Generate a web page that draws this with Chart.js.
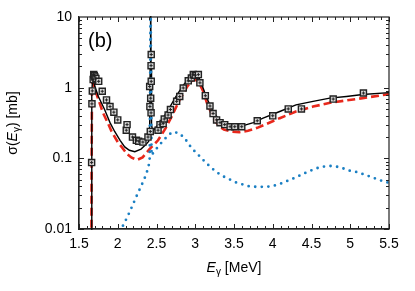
<!DOCTYPE html>
<html>
<head>
<meta charset="utf-8">
<script src="https://cdn.jsdelivr.net/npm/chart.js@4.4.0/dist/chart.umd.min.js"></script>
<style>
  html, body { margin: 0; padding: 0; background: #fff; }
  #wrap { width: 415px; height: 291px; }
</style>
</head>
<body>
<div id="wrap"><canvas id="chart"></canvas></div>
<script>
// x ticks / y ticks
const xTicks = [1.5, 2, 2.5, 3, 3.5, 4, 4.5, 5, 5.5];
const yTicks = [0.01, 0.1, 1, 10];

// total (black solid)
const totalE = [1.658, 1.663, 1.667, 1.673, 1.685, 1.70, 1.75, 1.83, 1.90, 1.96, 2.03, 2.09, 2.15, 2.22, 2.30, 2.36, 2.40,
  2.412, 2.418, 2.424, 2.430, 2.436, 2.45, 2.56, 2.65, 2.75, 2.85, 2.94, 3.0, 3.05, 3.10, 3.15, 3.23, 3.30, 3.38, 3.45,
  3.55, 3.62, 3.75, 3.875, 4.09, 4.30, 4.52, 4.735, 4.95, 5.16, 5.5];
const totalS = [0.001, 0.1, 0.8, 1.25, 1.27, 1.08, 0.75, 0.49, 0.32, 0.24, 0.18, 0.145, 0.13, 0.124, 0.135, 0.155, 0.175,
  0.3, 2, 30, 2, 0.3, 0.24, 0.34, 0.48, 0.75, 1.1, 1.42, 1.48, 1.38, 1.0, 0.71, 0.46, 0.36, 0.31, 0.30,
  0.285, 0.29, 0.32, 0.37, 0.46, 0.57, 0.64, 0.71, 0.75, 0.80, 0.85];

// red dashed component
const redE = [1.658, 1.663, 1.667, 1.672, 1.68, 1.70, 1.75, 1.81, 1.87, 1.92, 2.0, 2.05, 2.12, 2.18, 2.25, 2.32, 2.41,
  2.52, 2.62, 2.70, 2.80, 2.90, 2.96, 3.0, 3.04, 3.10, 3.15, 3.23, 3.30, 3.37, 3.46, 3.57, 3.68, 3.80, 3.90, 4.09,
  4.30, 4.52, 4.74, 4.95, 5.16, 5.5];
const redS = [0.001, 0.1, 0.8, 1.2, 1.22, 0.98, 0.68, 0.44, 0.32, 0.24, 0.17, 0.145, 0.115, 0.102, 0.095, 0.103, 0.135,
  0.18, 0.27, 0.40, 0.68, 1.05, 1.25, 1.30, 1.22, 0.9, 0.61, 0.38, 0.29, 0.255, 0.24, 0.235, 0.245, 0.27, 0.30, 0.37,
  0.46, 0.54, 0.61, 0.66, 0.71, 0.81];

// blue dotted component
const blueE = [2.0, 2.045, 2.09, 2.16, 2.235, 2.30, 2.346, 2.376, 2.40, 2.412, 2.418, 2.424, 2.430, 2.436, 2.47, 2.55,
  2.63, 2.70, 2.78, 2.85, 2.91, 2.95, 3.02, 3.09, 3.15, 3.23, 3.31, 3.37, 3.45, 3.53, 3.62, 3.70, 3.79, 3.875, 3.97,
  4.055, 4.13, 4.22, 4.305, 4.38, 4.46, 4.545, 4.63, 4.74, 4.83, 4.915, 5.0, 5.086, 5.17, 5.26, 5.34, 5.43, 5.5];
const blueS = [0.0075, 0.010, 0.0124, 0.018, 0.028, 0.040, 0.052, 0.064, 0.08, 0.1, 1, 30, 1, 0.11, 0.125, 0.16,
  0.20, 0.235, 0.23, 0.20, 0.164, 0.14, 0.118, 0.098, 0.084, 0.070, 0.060, 0.055, 0.050, 0.0454, 0.0425, 0.040, 0.0395, 0.0395, 0.040,
  0.042, 0.045, 0.0496, 0.054, 0.0596, 0.065, 0.071, 0.076, 0.078, 0.076, 0.0717, 0.0665, 0.064, 0.0596, 0.055, 0.051, 0.047, 0.045];

// measured points (squares)
const expE = [1.663, 1.667, 1.672, 1.683, 1.690, 1.697, 1.705, 1.718, 1.754, 1.80, 1.855, 1.90, 1.95, 2.00, 2.11, 2.12,
  2.19, 2.24, 2.27, 2.325, 2.39, 2.42, 2.43, 2.415, 2.425, 2.412, 2.432, 2.43, 2.432, 2.52, 2.545, 2.586, 2.60, 2.65,
  2.68, 2.76, 2.80, 2.845, 2.91, 2.95, 2.975, 3.00, 3.04, 3.06, 3.13, 3.19, 3.23, 3.275, 3.32, 3.38, 3.45, 3.51, 3.60,
  3.80, 4.00, 4.20, 4.37, 4.78, 5.17];
const expS = [0.087, 0.59, 0.90, 1.30, 1.53, 1.48, 1.42, 1.35, 1.23, 0.89, 0.67, 0.54, 0.45, 0.35, 0.25, 0.30,
  0.20, 0.18, 0.175, 0.17, 0.20, 0.24, 0.44, 0.54, 0.71, 1.04, 1.23, 2.05, 2.94, 0.25, 0.30, 0.31, 0.36, 0.41,
  0.49, 0.64, 0.75, 0.99, 1.25, 1.37, 1.53, 1.50, 1.53, 1.17, 0.77, 0.55, 0.43, 0.35, 0.32, 0.30, 0.28, 0.28, 0.28,
  0.34, 0.40, 0.50, 0.50, 0.69, 0.84];

const pts = (xs, ys) => xs.map((x, i) => ({ x: x, y: ys[i] }));

const FONT = "'Liberation Sans', Arial, sans-serif";

const framePlugin = {
  id: "frame",
  afterDraw(chart) {
    const { ctx, chartArea: a, scales: { x, y } } = chart;
    ctx.save();
    ctx.strokeStyle = "#222";
    ctx.lineWidth = 1.2;
    ctx.strokeRect(a.left, a.top, a.right - a.left, a.bottom - a.top);

    // x ticks, top and bottom, inward
    ctx.lineWidth = 1;
    ctx.beginPath();
    for (let k = 0; k <= 40; k++) {
      const v = 1.5 + k * 0.1;
      const px = Math.round(x.getPixelForValue(v)) + 0.5;
      const len = k % 5 === 0 ? 5 : 3;
      ctx.moveTo(px, a.bottom); ctx.lineTo(px, a.bottom - len);
      ctx.moveTo(px, a.top); ctx.lineTo(px, a.top + len);
    }
    // y ticks, log minors, left and right
    for (let d = -2; d <= 0; d++) {
      for (let m = 1; m <= 9; m++) {
        const v = m * Math.pow(10, d);
        const py = Math.round(y.getPixelForValue(v)) + 0.5;
        const len = m === 1 ? 5 : 3;
        ctx.moveTo(a.left, py); ctx.lineTo(a.left + len, py);
        ctx.moveTo(a.right, py); ctx.lineTo(a.right - len, py);
      }
    }
    ctx.stroke();

    // panel label
    ctx.fillStyle = "#000";
    ctx.font = "20px " + FONT;
    ctx.textBaseline = "alphabetic";
    ctx.textAlign = "left";
    ctx.fillText("(b)", 88, 47);

    // x title: E_gamma [MeV]
    const cx = (a.left + a.right) / 2;
    const base = 272;
    ctx.font = "italic 14px " + FONT;
    const wE = ctx.measureText("E").width;
    ctx.font = "10px " + FONT;
    const wG = ctx.measureText("\u03b3").width;
    ctx.font = "14px " + FONT;
    const wR = ctx.measureText(" [MeV]").width;
    let sx = cx - (wE + wG + wR) / 2;
    ctx.font = "italic 14px " + FONT;
    ctx.fillText("E", sx, base);
    ctx.font = "10px " + FONT;
    ctx.fillText("\u03b3", sx + wE, base + 3);
    ctx.font = "14px " + FONT;
    ctx.fillText(" [MeV]", sx + wE + wG, base);

    // y title: sigma(E_gamma) [mb]
    ctx.translate(17, (a.top + a.bottom) / 2);
    ctx.rotate(-Math.PI / 2);
    const parts = [
      ["\u03c3(", "14px ", 0],
      ["E", "italic 14px ", 0],
      ["\u03b3", "10px ", 3],
      [") [mb]", "14px ", 0]
    ];
    let tw = 0;
    parts.forEach(p => { ctx.font = p[1] + FONT; tw += ctx.measureText(p[0]).width; });
    let ox = -tw / 2;
    parts.forEach(p => {
      ctx.font = p[1] + FONT;
      ctx.fillText(p[0], ox, p[2]);
      ox += ctx.measureText(p[0]).width;
    });
    ctx.restore();
  }
};

new Chart(document.getElementById("chart"), {
  type: "scatter",
  data: {
    datasets: [
      {
        data: pts(expE, expS),
        pointStyle: "cross",
        pointRadius: 1.6,
        borderColor: "#222",
        borderWidth: 1,
        showLine: false,
        order: 0
      },
      {
        data: pts(expE, expS),
        pointStyle: "rect",
        pointRadius: 4.3,
        backgroundColor: "rgba(215,215,215,0.9)",
        borderColor: "#222",
        borderWidth: 1.4,
        showLine: false,
        order: 1
      },
      {
        data: pts(blueE, blueS),
        showLine: true,
        pointRadius: 0,
        borderColor: "#1a7fc3",
        borderWidth: 2.8,
        borderDash: [0, 6.6],
        borderCapStyle: "round",
        tension: 0,
        clip: 1,
        order: 2
      },
      {
        data: pts(totalE, totalS),
        showLine: true,
        pointRadius: 0,
        borderColor: "#000",
        borderWidth: 1.4,
        tension: 0,
        clip: 1,
        order: 3
      },
      {
        data: pts(redE, redS),
        showLine: true,
        pointRadius: 0,
        borderColor: "#e8281c",
        borderWidth: 2.6,
        borderDash: [8, 4],
        tension: 0,
        clip: 1,
        order: 4
      }
    ]
  },
  options: {
    responsive: true,
    maintainAspectRatio: false,
    animation: false,
    devicePixelRatio: 1,
    layout: { padding: { left: 0, top: 17, right: 26, bottom: 0 } },
    plugins: { legend: { display: false }, tooltip: { enabled: false } },
    scales: {
      x: {
        type: "linear",
        min: 1.5,
        max: 5.5,
        afterBuildTicks: s => { s.ticks = xTicks.map(v => ({ value: v })); },
        ticks: {
          color: "#000",
          font: { family: FONT, size: 14 },
          padding: 7,
          maxRotation: 0,
          callback: v => String(v)
        },
        grid: { display: false, drawTicks: false },
        border: { display: true, color: "#222", width: 1.2 },
        afterFit: s => { s.height = 62; }
      },
      y: {
        type: "logarithmic",
        min: 0.01,
        max: 10,
        afterBuildTicks: s => { s.ticks = yTicks.map(v => ({ value: v })); },
        ticks: {
          color: "#000",
          font: { family: FONT, size: 14 },
          padding: 7,
          callback: v => String(v)
        },
        grid: { display: false, drawTicks: false },
        border: { display: true, color: "#222", width: 1.2 },
        afterFit: s => { s.width = 79; }
      }
    }
  },
  plugins: [framePlugin]
});
</script>
</body>
</html>
